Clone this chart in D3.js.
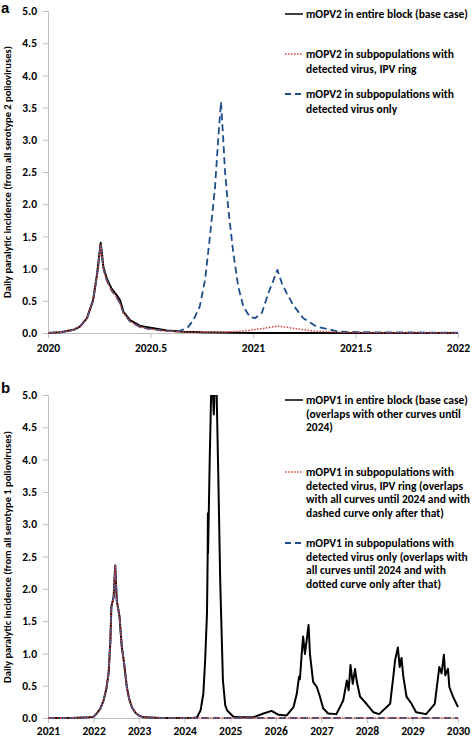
<!DOCTYPE html>
<html><head><meta charset="utf-8">
<script src="https://cdn.jsdelivr.net/npm/d3@7/dist/d3.min.js"></script>
<style>
html,body{margin:0;padding:0;background:#fff;}
svg{display:block;font-family:Carlito,Lato,"Open Sans",sans-serif;}
</style></head>
<body>
<svg id="chart" width="472" height="738"></svg>
<script>
// ---------- Panel a (serotype 2) ----------
const topXTicks = [2020, 2020.5, 2021, 2021.5, 2022];
const yTicks = [0, 0.5, 1, 1.5, 2, 2.5, 3, 3.5, 4, 4.5, 5];

const topBaseYears = [2020.00,2020.06,2020.125,2020.156,2020.19,2020.22,2020.24,2020.257,2020.27,2020.286,2020.31,2020.335,2020.351,2020.368,2020.40,2020.45,2020.50,2020.58,2020.66,2020.75,2020.90,2021.0,2021.5,2022.0];
const topBaseValues = [0.00,0.01,0.05,0.10,0.23,0.51,0.93,1.40,1.03,0.85,0.69,0.59,0.51,0.33,0.20,0.11,0.08,0.04,0.02,0.01,0.005,0.0,0.0,0.0];

const topRingYears = [2020.00,2020.06,2020.125,2020.156,2020.19,2020.22,2020.24,2020.257,2020.27,2020.286,2020.31,2020.335,2020.351,2020.368,2020.40,2020.45,2020.50,2020.58,2020.66,2020.75,2020.85,2020.95,2021.05,2021.12,2021.20,2021.30,2021.42,2021.60,2022.0];
const topRingValues = [0.00,0.01,0.05,0.10,0.23,0.50,0.92,1.38,1.00,0.82,0.66,0.55,0.46,0.31,0.18,0.09,0.06,0.03,0.015,0.01,0.01,0.03,0.07,0.11,0.07,0.03,0.01,0.005,0.0];

const topDetectYears = [2020.00,2020.06,2020.125,2020.156,2020.19,2020.22,2020.24,2020.257,2020.27,2020.286,2020.31,2020.335,2020.351,2020.368,2020.40,2020.45,2020.50,2020.58,2020.64,2020.68,2020.709,2020.74,2020.766,2020.79,2020.815,2020.83,2020.844,2020.856,2020.863,2020.88,2020.904,2020.928,2020.953,2020.985,2021.01,2021.043,2021.075,2021.10,2021.119,2021.14,2021.164,2021.197,2021.245,2021.31,2021.42,2021.60,2022.0];
const topDetectValues = [0.00,0.01,0.05,0.10,0.23,0.50,0.92,1.38,1.00,0.82,0.66,0.55,0.46,0.31,0.18,0.09,0.06,0.03,0.03,0.08,0.20,0.41,0.82,1.50,2.27,3.00,3.59,2.95,2.53,1.91,1.24,0.72,0.41,0.25,0.23,0.31,0.62,0.82,0.98,0.78,0.62,0.43,0.23,0.10,0.02,0.01,0.005];

// ---------- Panel b (serotype 1) ----------
const botXTicks = [2021, 2022, 2023, 2024, 2025, 2026, 2027, 2028, 2029, 2030];

const botBaseYears = [2021.0,2021.5,2021.9,2022.0,2022.07,2022.15,2022.22,2022.28,2022.33,2022.37,2022.39,2022.44,2022.476,2022.51,2022.57,2022.62,2022.67,2022.73,2022.78,2022.84,2022.92,2022.99,2023.1,2023.5,2024.0,2024.2,2024.27,2024.35,2024.41,2024.45,2024.49,2024.505,2024.51,2024.513,2024.55,2024.59,2024.61,2024.64,2024.67,2024.70,2024.74,2024.78,2024.84,2024.89,2024.93,2025.07,2025.2,2025.5,2025.73,2025.91,2026.06,2026.24,2026.39,2026.46,2026.51,2026.53,2026.57,2026.60,2026.64,2026.72,2026.75,2026.82,2026.90,2026.97,2027.04,2027.15,2027.33,2027.48,2027.56,2027.60,2027.64,2027.69,2027.74,2027.78,2027.85,2027.99,2028.14,2028.27,2028.51,2028.58,2028.62,2028.68,2028.72,2028.76,2028.80,2028.87,2028.98,2029.08,2029.30,2029.49,2029.59,2029.64,2029.69,2029.72,2029.78,2029.81,2029.89,2030.0];
const botBaseValues = [0.0,0.0,0.01,0.02,0.07,0.15,0.27,0.45,0.69,1.20,1.72,1.87,2.36,1.82,1.57,1.10,0.85,0.48,0.30,0.17,0.08,0.04,0.01,0.0,0.0,0.005,0.01,0.12,0.38,0.90,1.62,2.50,3.17,2.55,4.00,5.30,5.20,4.70,5.30,5.10,3.69,2.13,0.58,0.20,0.12,0.02,0.01,0.01,0.07,0.11,0.05,0.04,0.17,0.37,0.64,0.60,1.00,1.26,0.99,1.44,0.99,0.56,0.48,0.33,0.15,0.07,0.06,0.27,0.58,0.43,0.82,0.53,0.76,0.56,0.33,0.22,0.09,0.06,0.22,0.64,0.90,1.09,0.79,0.93,0.64,0.33,0.22,0.09,0.06,0.22,0.79,0.69,0.98,0.66,0.76,0.48,0.33,0.17];

const botRingYears = [2021.0,2021.5,2021.9,2022.0,2022.07,2022.15,2022.22,2022.28,2022.33,2022.37,2022.39,2022.44,2022.476,2022.51,2022.57,2022.62,2022.67,2022.73,2022.78,2022.84,2022.92,2022.99,2023.1,2023.5,2024.0,2030.0];
const botRingValues = [0.0,0.0,0.01,0.02,0.07,0.15,0.27,0.45,0.69,1.20,1.72,1.87,2.36,1.82,1.57,1.10,0.85,0.48,0.30,0.17,0.08,0.04,0.01,0.0,0.0,0.0];
const botDetectYears = botRingYears;
const botDetectValues = botRingValues;

const topLegend = [
  ["mOPV2 in entire block (base case)"],
  ["mOPV2 in subpopulations with", "detected virus, IPV ring"],
  ["mOPV2 in subpopulations with", "detected virus only"]
];
const botLegend = [
  ["mOPV1 in entire block (base case)", "(overlaps with other curves until", "2024)"],
  ["mOPV1 in subpopulations with", "detected virus, IPV ring (overlaps", "with all curves until 2024 and with", "dashed curve only after that)"],
  ["mOPV1 in subpopulations with", "detected virus only (overlaps with", "all curves until 2024 and with", "dotted curve only after that)"]
];
const yTitleTop = "Daily paralytic incidence (from all serotype 2 polioviruses)";
const yTitleBot = "Daily paralytic incidence (from all serotype 1 polioviruses)";

// ---------- styles ----------
const styles = {
  base:   {stroke:"#000000", width:2,   dash:null},
  detect: {stroke:"#1f4e8c", width:1.8, dash:"7,4"},
  ring:   {stroke:"#d9443f", width:1.5, dash:"1.5,1.5"}
};
const FONT = 11.5;
const TICKFONT = 11.5;
const axisColor = "#bfbfbf";

const svg = d3.select("#chart");

function panel(cfg) {
  const x = d3.scaleLinear().domain(cfg.xDomain).range([48, 458]);
  const y = d3.scaleLinear().domain([0, 5]).range([cfg.bottom, cfg.top]);
  const g = svg.append("g");
  const clipId = "clip" + cfg.id;
  svg.append("clipPath").attr("id", clipId).append("rect")
    .attr("x", 47).attr("y", cfg.top).attr("width", 413).attr("height", cfg.bottom - cfg.top + 3);

  // axes
  const ya = g.append("g").attr("transform", "translate(48,0)")
    .call(d3.axisLeft(y).tickValues(yTicks).tickFormat(d3.format(".1f")).tickSize(5).tickPadding(6));
  const xa = g.append("g").attr("transform", `translate(0,${cfg.bottom})`)
    .call(d3.axisBottom(x).tickValues(cfg.xTicks).tickFormat(cfg.xFormat).tickSize(5).tickPadding(cfg.xPad));
  [ya, xa].forEach(a => {
    a.select(".domain").attr("stroke", axisColor).attr("stroke-width", 1);
    a.selectAll(".tick line").attr("stroke", axisColor);
    a.selectAll(".tick text").attr("fill", "#000").attr("font-weight", "bold")
      .attr("font-size", TICKFONT).attr("font-family", "Carlito,Lato,sans-serif");
  });

  // lines
  const line = d3.line().x(d => x(d[0])).y(d => y(d[1]));
  const plot = g.append("g").attr("clip-path", `url(#${clipId})`);
  cfg.series.forEach(s => {
    const st = styles[s.style];
    const data = s.years.map((yr, i) => [yr, s.values[i]]);
    plot.append("path").datum(data).attr("d", line)
      .attr("fill", "none").attr("stroke", st.stroke).attr("stroke-width", st.width)
      .attr("stroke-linejoin", "round")
      .attr("stroke-dasharray", st.dash);
  });

  // y title
  g.append("text")
    .attr("transform", `translate(11,${cfg.titleY}) rotate(-90)`)
    .attr("text-anchor", "middle").attr("font-weight", "bold").attr("font-size", 10.5)
    .attr("fill", "#000").text(cfg.title);

  // panel letter
  g.append("text").attr("x", 1).attr("y", cfg.letterY)
    .attr("font-family", "Liberation Sans,Arial,sans-serif")
    .attr("font-weight", "bold").attr("font-size", 15).attr("fill", "#000").text(cfg.letter);

  // legend
  cfg.legend.forEach((lines, i) => {
    const st = styles[cfg.legendStyles[i]];
    const y0 = cfg.legendY[i];
    g.append("line").attr("x1", 285).attr("x2", 303).attr("y1", y0 - 4).attr("y2", y0 - 4)
      .attr("stroke", st.stroke).attr("stroke-width", st.width === 2 ? 1.5 : st.width)
      .attr("stroke-dasharray", st.dash === "7,4" ? "6,4" : st.dash);
    const t = g.append("text").attr("font-weight", "bold").attr("font-size", FONT).attr("fill", "#000");
    lines.forEach((ln, j) => {
      t.append("tspan").attr("x", 306).attr("y", y0 + j * cfg.legendLH).text(ln);
    });
  });
}

panel({
  id: "a", xDomain: [2020, 2022], top: 11, bottom: 333, xTicks: topXTicks,
  xFormat: d => d3.format("")(d), xPad: 6,
  series: [
    {style: "base", years: topBaseYears, values: topBaseValues},
    {style: "detect", years: topDetectYears, values: topDetectValues},
    {style: "ring", years: topRingYears, values: topRingValues}
  ],
  title: yTitleTop, titleY: 172, letter: "a", letterY: 13,
  legend: topLegend, legendStyles: ["base", "ring", "detect"],
  legendY: [18, 58, 98], legendLH: 15
});

panel({
  id: "b", xDomain: [2021, 2030], top: 395, bottom: 718, xTicks: botXTicks,
  xFormat: d => d3.format("")(d), xPad: 4,
  series: [
    {style: "base", years: botBaseYears, values: botBaseValues},
    {style: "detect", years: botDetectYears, values: botDetectValues},
    {style: "ring", years: botRingYears, values: botRingValues}
  ],
  title: yTitleBot, titleY: 557, letter: "b", letterY: 393,
  legend: botLegend, legendStyles: ["base", "ring", "detect"],
  legendY: [404, 476, 547], legendLH: 13.6
});
</script>
</body></html>
